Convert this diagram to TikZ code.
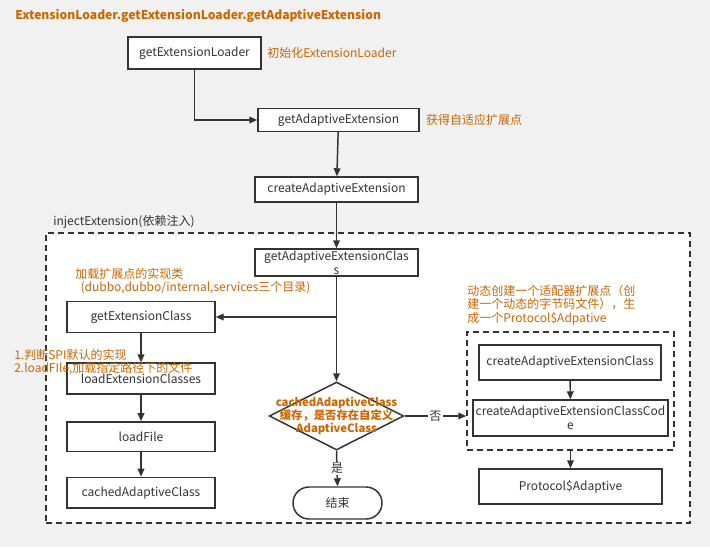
\documentclass[tikz,border=0pt]{standalone}
\usepackage{fontspec}
\setmainfont{Noto Sans CJK SC}
\usepackage{xcolor}
\usepackage{tikz}
\usetikzlibrary{shapes.geometric, arrows.meta, positioning, calc}
\definecolor{NoteOrange}{HTML}{CC6600}
\definecolor{LineGray}{HTML}{333333}
\definecolor{PageGray}{HTML}{F1F1F1}
\tikzset{
    flowbox/.style={rectangle, draw=LineGray, line width=1.1pt, fill=white,
        text=LineGray, align=center, inner sep=1pt, font=\fontsize{9}{10.5}\selectfont},
    colbox/.style={flowbox, minimum width=111pt, minimum height=23pt},
    decisionbox/.style={diamond, draw=LineGray, line width=1.1pt, fill=white,
        minimum width=101pt, minimum height=51pt, inner sep=0pt},
    decisiontext/.style={align=center, text=NoteOrange, font=\fontsize{8.5}{10}\selectfont\bfseries},
    endbox/.style={rectangle, rounded corners=12pt, draw=LineGray, line width=1.1pt, fill=white,
        minimum width=66.75pt, minimum height=24pt, font=\fontsize{9}{10.5}\selectfont, text=LineGray},
    groupbox/.style={rectangle, draw=LineGray, line width=1.1pt, dash pattern=on 4.5pt off 3pt},
    notetext/.style={align=left, text=NoteOrange, inner sep=0pt, font=\fontsize{9}{10}\selectfont},
    flowarrow/.style={-{Triangle[length=6pt, width=5pt]}, line width=1.1pt, draw=LineGray},
    branchlabel/.style={fill=white, inner sep=1pt, text=LineGray, font=\fontsize{9}{10}\selectfont},
}

\begin{document}
\begin{tikzpicture}[x=0.75pt, y=-0.75pt]
    % page
    \fill[PageGray] (0,0) rectangle (710,547);
    \useasboundingbox (0,0) rectangle (710,547);

    \node[anchor=west, inner sep=0pt, text=NoteOrange, font=\fontsize{9.1}{11}\selectfont\bfseries] (title) at (15,16)
        {ExtensionLoader.getExtensionLoader.getAdaptiveExtension};

    % outer group
    \node[groupbox, fill=white, minimum width=483pt, minimum height=217.5pt] (inject) at (368,378) {};
    \node[anchor=west, inner sep=0pt, text=LineGray, font=\fontsize{9}{10}\selectfont] (injectlabel) at (53,222)
        {injectExtension(依赖注入)};

    % main chain
    \node[flowbox, minimum width=99.75pt, minimum height=24pt] (gel) at (194.5,53) {getExtensionLoader};
    \node[notetext, right=4pt of gel] (gelnote) {初始化ExtensionLoader};

    \node[flowbox, minimum width=120.75pt, minimum height=17pt] (gae) at (338.5,120) {getAdaptiveExtension};
    \node[notetext, right=4.5pt of gae] (gaenote) {获得自适应扩展点};

    \node[flowbox, minimum width=122.25pt, minimum height=18.75pt] (cae) at (336.5,189.5) {createAdaptiveExtension};

    \node[flowbox, minimum width=122.25pt, minimum height=20.25pt] (gaec) at (336.5,262.5)
        {getAdaptiveExtensionClas\\s};

    % left column
    \node[colbox] (gec) at (141,317) {getExtensionClass};
    \node[colbox, below=22pt of gec] (lec) {loadExtensionClasses};
    \node[colbox, minimum height=22pt, below=20pt of lec] (lf) {loadFile};
    \node[colbox, below=18.5pt of lf] (cac) {cachedAdaptiveClass};

    \node[notetext, anchor=west] (gecnote) at (75,281)
        {加载扩展点的实现类\\\hspace{4pt}(dubbo,dubbo/internal,services三个目录)};
    \node[notetext, anchor=west] (lecnote) at (14,362)
        {1.判断SPI默认的实现\\2.loadFIle,加载指定路径下的文件};

    % decision
    \node[decisionbox] (dec) at (336.5,416) {};
    \node[decisiontext] (dectext) at (dec.center)
        {cachedAdaptiveClass\\缓存，是否存在自定义\\AdaptiveClass};
    \node[endbox] (end) at (337.5,503) {结束};

    % generated class group
    \node[groupbox, minimum width=155.25pt, minimum height=88.5pt] (gen) at (570.5,391) {};
    \node[flowbox, minimum width=136.5pt, minimum height=26.25pt] (cacl) at (570,362.5) {createAdaptiveExtensionClass};
    \node[flowbox, minimum width=146.25pt, minimum height=27pt] (cacc) at (570.5,418)
        {createAdaptiveExtensionClassCod\\e};
    \node[flowbox, minimum width=137.25pt, minimum height=26.25pt] (proto) at (570.5,486.5) {Protocol\$Adaptive};
    \node[notetext, anchor=west] (gennote) at (467,305)
        {动态创建一个适配器扩展点（创\\建一个动态的字节码文件），生\\成一个Protocol\$Adpative};

    % connectors
    \draw[flowarrow] (gel.south) |- (gae.west);
    \draw[flowarrow] (gae) -- (cae);
    \draw[flowarrow] (cae) -- (gaec);
    \draw[flowarrow] (gaec) -- (dec.north);
    \draw[flowarrow] (gaec.south |- gec.east) -- (gec.east);
    \draw[flowarrow] (gec) -- (lec);
    \draw[flowarrow] (lec) -- (lf);
    \draw[flowarrow] (lf) -- (cac);
    \draw[flowarrow] (dec.south) -- node[branchlabel] {是} (end.north);
    \draw[flowarrow] (dec.east) -- node[branchlabel] {否} (dec.east -| gen.west);
    \draw[flowarrow] (cacl) -- (cacc);
    \draw[flowarrow] (gen.south) -- (proto.north);
\end{tikzpicture}
\end{document}
